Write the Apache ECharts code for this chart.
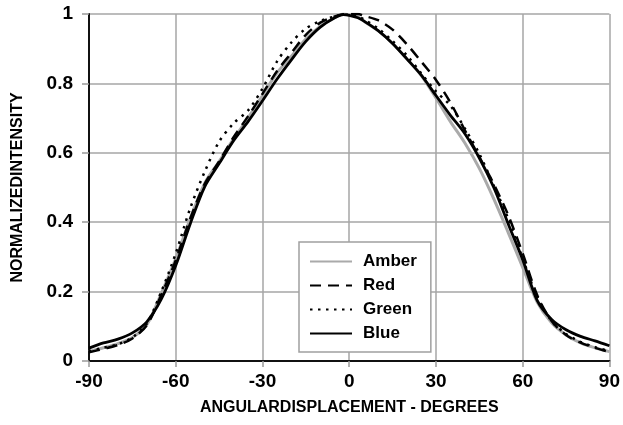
<!DOCTYPE html>
<html>
<head>
<meta charset="utf-8">
<script src="https://cdn.jsdelivr.net/npm/echarts@6/dist/echarts.min.js"></script>
<style>
html,body{margin:0;padding:0;background:#fff;}
#chart{width:623px;height:425px;}
</style>
</head>
<body>
<div id="chart"></div>
<script>
const angles = [-90,-85,-80,-75,-70,-65,-60,-55,-50,-45,-40,-35,-30,-25,-20,-15,-10,-5,-2,0,3,5,10,15,20,25,30,35,40,45,50,55,60,65,70,75,80,85,90];
const amber = [0.027,0.038,0.050,0.068,0.105,0.195,0.295,0.410,0.512,0.575,0.640,0.700,0.765,0.830,0.878,0.928,0.965,0.990,1.000,0.998,0.992,0.980,0.952,0.915,0.870,0.822,0.758,0.690,0.628,0.555,0.467,0.370,0.270,0.170,0.110,0.075,0.052,0.038,0.027];
const red   = [0.025,0.035,0.046,0.065,0.103,0.190,0.290,0.410,0.510,0.575,0.645,0.705,0.770,0.835,0.888,0.940,0.975,0.993,0.999,1.000,1.000,0.995,0.982,0.955,0.912,0.862,0.810,0.745,0.665,0.588,0.510,0.420,0.310,0.190,0.115,0.075,0.053,0.038,0.026];
const green = [0.028,0.038,0.048,0.068,0.108,0.200,0.310,0.440,0.545,0.632,0.685,0.722,0.785,0.863,0.918,0.958,0.980,0.993,0.998,0.998,0.992,0.985,0.958,0.922,0.880,0.828,0.777,0.736,0.670,0.597,0.505,0.410,0.295,0.185,0.115,0.078,0.055,0.040,0.028];
const blue  = [0.037,0.052,0.063,0.081,0.113,0.178,0.275,0.395,0.502,0.569,0.635,0.690,0.750,0.812,0.868,0.921,0.962,0.989,0.998,0.996,0.989,0.980,0.952,0.915,0.870,0.823,0.765,0.708,0.655,0.585,0.500,0.395,0.292,0.175,0.120,0.090,0.071,0.058,0.044];
const xTicks = [-90,-60,-30,0,30,60,90];
const yTicks = [0,0.2,0.4,0.6,0.8,1];

const FONT = '"Liberation Sans",Arial,sans-serif';
const pair = (arr) => angles.map((a,i)=>[a,arr[i]]);

const chart = echarts.init(document.getElementById('chart'), null, {renderer:'canvas'});
chart.setOption({
  animation:false,
  backgroundColor:'#fff',
  grid:{left:89,right:10,top:14,bottom:64},
  xAxis:{
    type:'value',min:xTicks[0],max:xTicks[xTicks.length-1],interval:30,
    name:'ANGULARDISPLACEMENT - DEGREES',nameLocation:'middle',nameGap:39,
    nameTextStyle:{fontFamily:FONT,fontWeight:'bold',fontSize:16,color:'#000'},
    axisLine:{show:true,onZero:false,lineStyle:{color:'#111',width:2}},
    axisTick:{show:true,length:6,lineStyle:{color:'#999',width:1.5}},
    axisLabel:{margin:11,fontFamily:FONT,fontWeight:'bold',fontSize:19,color:'#000'},
    splitLine:{show:true,lineStyle:{color:'#a6a6a6',width:1.5}}
  },
  yAxis:{
    type:'value',min:yTicks[0],max:yTicks[yTicks.length-1],interval:0.2,
    name:'NORMALIZEDINTENSITY',nameLocation:'middle',nameGap:63,
    nameTextStyle:{fontFamily:FONT,fontWeight:'bold',fontSize:16,color:'#000'},
    axisLine:{show:true,onZero:false,lineStyle:{color:'#111',width:2}},
    axisTick:{show:true,length:7,lineStyle:{color:'#999',width:1.5}},
    axisLabel:{margin:16,fontFamily:FONT,fontWeight:'bold',fontSize:19,color:'#000'},
    splitLine:{show:true,lineStyle:{color:'#a6a6a6',width:1.5}}
  },
  legend:{
    left:299,top:242,orient:'vertical',
    padding:[11,14,10,10],
    itemWidth:42,itemHeight:14,itemGap:7,
    backgroundColor:'#fff',borderColor:'#a0a0a0',borderWidth:1.5,
    itemStyle:{opacity:0},
    textStyle:{fontFamily:FONT,fontWeight:'bold',fontSize:17,color:'#000',padding:[0,0,0,6]},
    data:['Amber','Red','Green','Blue']
  },
  series:[
    {name:'Amber',type:'line',data:pair(amber),smooth:0.3,showSymbol:false,symbol:'none',
     lineStyle:{color:'#aaaaaa',width:3},itemStyle:{color:'#aaaaaa'},z:2},
    {name:'Red',type:'line',data:pair(red),smooth:0.3,showSymbol:false,symbol:'none',
     lineStyle:{color:'#000',width:2.5,type:[11,7]},itemStyle:{color:'#000'},z:3},
    {name:'Green',type:'line',data:pair(green),smooth:0.3,showSymbol:false,symbol:'none',
     lineStyle:{color:'#000',width:2.5,type:[2.5,5.5]},itemStyle:{color:'#000'},z:4},
    {name:'Blue',type:'line',data:pair(blue),smooth:0.3,showSymbol:false,symbol:'none',
     lineStyle:{color:'#000',width:2.8},itemStyle:{color:'#000'},z:5}
  ]
});
</script>
</body>
</html>
